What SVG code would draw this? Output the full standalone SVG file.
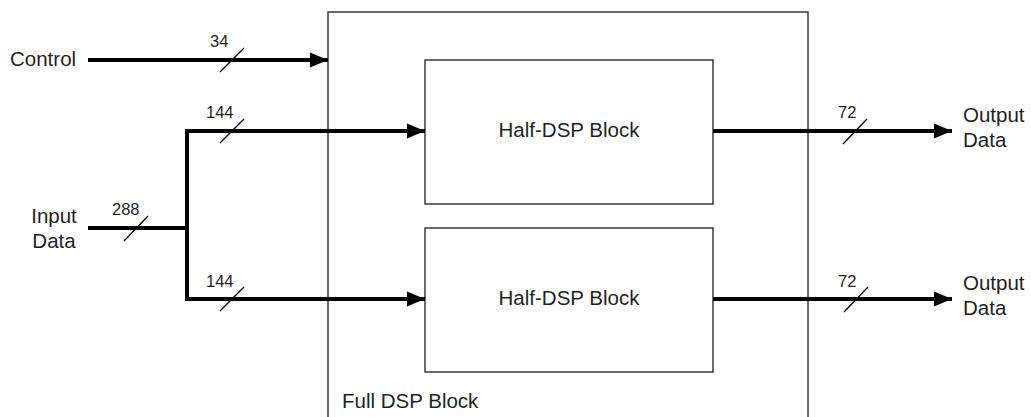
<svg xmlns="http://www.w3.org/2000/svg" width="1031" height="417" viewBox="0 0 1031 417">
<style>
text{font-family:"Liberation Sans",Arial,sans-serif;fill:#231f20}
.lbl{font-size:20.5px}
.num{font-size:16.5px}
.box{fill:#fff;stroke:#3a3a3a;stroke-width:1.5}
.bus{fill:none;stroke:#000;stroke-width:4}
.sl{stroke:#000;stroke-width:1.3}
</style>
<defs>
<marker id="ah" markerUnits="userSpaceOnUse" markerWidth="20" markerHeight="16" refX="18" refY="8" orient="auto">
<path d="M0,0.5 L18,8 L0,15.5 Z" fill="#000"/>
</marker>
</defs>
<g id="full-dsp">
<rect class="box" x="328" y="12" width="480" height="420"/>
<text class="lbl" x="342" y="408">Full DSP Block</text>
</g>
<g id="half-dsp-1">
<rect class="box" x="425" y="60" width="288" height="144"/>
<text class="lbl" x="569" y="137" text-anchor="middle">Half-DSP Block</text>
</g>
<g id="half-dsp-2">
<rect class="box" x="425" y="228" width="288" height="144"/>
<text class="lbl" x="569" y="305" text-anchor="middle">Half-DSP Block</text>
</g>
<g id="control">
<text class="lbl" x="10" y="66">Control</text>
</g>
<g id="input-data">
<text class="lbl" x="54" y="223" text-anchor="middle">Input</text>
<text class="lbl" x="54" y="248" text-anchor="middle">Data</text>
</g>
<g id="output-data-1">
<text class="lbl" x="963" y="122">Output</text>
<text class="lbl" x="963" y="147">Data</text>
</g>
<g id="output-data-2">
<text class="lbl" x="963" y="290">Output</text>
<text class="lbl" x="963" y="315">Data</text>
</g>
<g id="connectors">
<line class="bus" x1="88" y1="60" x2="328" y2="60" marker-end="url(#ah)"/>
<line class="sl" x1="220" y1="72" x2="244" y2="48"/>
<text class="num" x="210" y="47">34</text>
<polyline class="bus" points="88,228 187,228"/>
<polyline class="bus" points="425,131 187,131 187,299 425,299" style="stroke-linejoin:miter"/>
<line class="bus" x1="187" y1="131" x2="425" y2="131" marker-end="url(#ah)"/>
<line class="bus" x1="187" y1="299" x2="425" y2="299" marker-end="url(#ah)"/>
<line class="sl" x1="124" y1="241" x2="148" y2="216"/>
<text class="num" x="112" y="215">288</text>
<line class="sl" x1="220" y1="143" x2="244" y2="119"/>
<text class="num" x="206" y="118">144</text>
<line class="sl" x1="220" y1="311" x2="244" y2="287"/>
<text class="num" x="206" y="287">144</text>
<line class="bus" x1="713" y1="131" x2="952" y2="131" marker-end="url(#ah)"/>
<line class="sl" x1="843" y1="144" x2="867" y2="119"/>
<text class="num" x="838" y="118">72</text>
<line class="bus" x1="713" y1="299" x2="952" y2="299" marker-end="url(#ah)"/>
<line class="sl" x1="844" y1="312" x2="868" y2="287"/>
<text class="num" x="838" y="287">72</text>
</g>
</svg>
